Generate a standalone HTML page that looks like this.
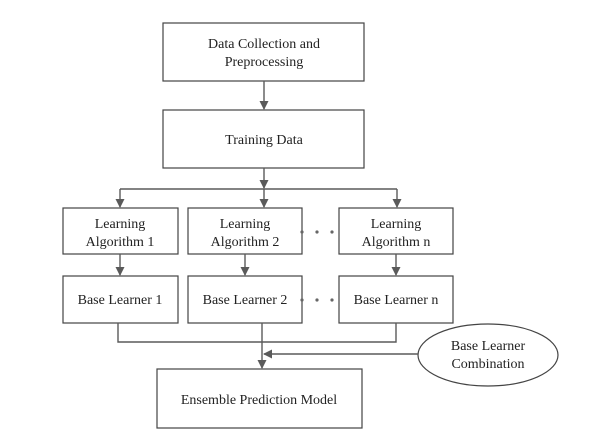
<!DOCTYPE html>
<html><head><style>body{margin:0;background:#fff}</style></head><body>
<svg width="591" height="434" viewBox="0 0 591 434" xmlns="http://www.w3.org/2000/svg" font-family="Liberation Serif, serif" font-size="14" fill="#222">
<defs><marker id="a" markerWidth="9" markerHeight="9" refX="8" refY="4.5" orient="auto" markerUnits="userSpaceOnUse"><path d="M0,0 L9,4.5 L0,9 Z" fill="#5a5a5a"/></marker></defs>
<g stroke="#444" stroke-width="1.2" fill="none">
<rect x="163" y="23" width="201" height="58"/>
<rect x="163" y="110" width="201" height="58"/>
<rect x="63" y="208" width="115" height="46"/>
<rect x="188" y="208" width="114" height="46"/>
<rect x="339" y="208" width="114" height="46"/>
<rect x="63" y="276" width="115" height="47"/>
<rect x="188" y="276" width="114" height="47"/>
<rect x="339" y="276" width="114" height="47"/>
<rect x="157" y="369" width="205" height="59"/>
<ellipse cx="488" cy="355" rx="70" ry="31"/>
</g>
<g stroke="#5a5a5a" stroke-width="1.4" fill="none">
<line x1="264" y1="81" x2="264" y2="109" marker-end="url(#a)"/>
<line x1="264" y1="168" x2="264" y2="188" marker-end="url(#a)"/>
<line x1="120" y1="189" x2="397" y2="189"/>
<line x1="120" y1="189" x2="120" y2="207" marker-end="url(#a)"/>
<line x1="264" y1="189" x2="264" y2="207" marker-end="url(#a)"/>
<line x1="397" y1="189" x2="397" y2="207" marker-end="url(#a)"/>
<line x1="120" y1="254" x2="120" y2="275" marker-end="url(#a)"/>
<line x1="245" y1="254" x2="245" y2="275" marker-end="url(#a)"/>
<line x1="396" y1="254" x2="396" y2="275" marker-end="url(#a)"/>
<polyline points="118,323 118,342 396,342 396,323"/>
<line x1="262" y1="323" x2="262" y2="368" marker-end="url(#a)"/>
<line x1="418" y1="354" x2="264" y2="354" marker-end="url(#a)"/>
</g>
<g fill="#666">
<circle cx="302" cy="232" r="1.6"/><circle cx="317" cy="232" r="1.6"/><circle cx="332" cy="232" r="1.6"/>
<circle cx="302" cy="300" r="1.6"/><circle cx="317" cy="300" r="1.6"/><circle cx="332" cy="300" r="1.6"/>
</g>
<g text-anchor="middle">
<text x="264" y="48">Data Collection and</text>
<text x="264" y="66">Preprocessing</text>
<text x="264" y="144">Training Data</text>
<text x="120" y="228">Learning</text><text x="120" y="246">Algorithm 1</text>
<text x="245" y="228">Learning</text><text x="245" y="246">Algorithm 2</text>
<text x="396" y="228">Learning</text><text x="396" y="246">Algorithm n</text>
<text x="120" y="304">Base Learner 1</text>
<text x="245" y="304">Base Learner 2</text>
<text x="396" y="304">Base Learner n</text>
<text x="259" y="404">Ensemble Prediction Model</text>
<text x="488" y="350">Base Learner</text>
<text x="488" y="368">Combination</text>
</g>
</svg>
</body></html>
